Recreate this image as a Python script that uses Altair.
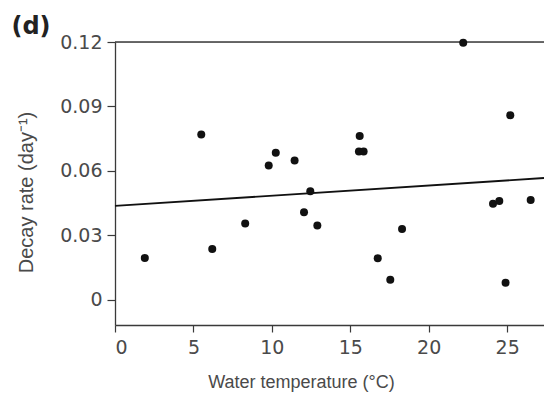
import altair as alt
import pandas as pd

# Decay rate versus water temperature
water_temp = [1.9, 5.5, 6.2, 8.3, 9.8, 10.25, 11.45, 12.05, 12.45, 12.9,
              15.6, 15.55, 15.85, 16.75, 17.55, 18.3, 22.2, 24.1, 24.5,
              25.2, 24.9, 26.5]
decay_rate = [0.0195, 0.077, 0.0237, 0.0355, 0.0625, 0.0685, 0.0648, 0.0408,
              0.0506, 0.0346, 0.0763, 0.069, 0.069, 0.0194, 0.0093, 0.033,
              0.1197, 0.0447, 0.046, 0.0859, 0.008, 0.0465]

# Fitted regression line (endpoints over the plotted range)
fit_x = [0.0, 27.35]
fit_y = [0.0437, 0.0567]

y_ticks = [0, 0.03, 0.06, 0.09, 0.12]
x_ticks = [0, 5, 10, 15, 20, 25]

X_DOMAIN = [0, 27.35]
Y_DOMAIN = [-0.0117, 0.12]

pts = pd.DataFrame({"t": water_temp, "k": decay_rate})
fit = pd.DataFrame({"t": fit_x, "k": fit_y})
top = pd.DataFrame({"k": [0.12]})

FONT = "Liberation Sans"
NUM_FONT = "DejaVu Sans"
AX = "#3a3a3a"
TXT = "#4a4a4a"

x_scale = alt.Scale(domain=X_DOMAIN, nice=False, zero=False)
y_scale = alt.Scale(domain=Y_DOMAIN, nice=False, zero=False)

x_axis = alt.Axis(
    values=x_ticks, title="Water temperature (°C)", grid=False,
    domainColor=AX, domainWidth=1.3, tickColor=AX, tickWidth=1.2, tickSize=7,
    labelPadding=6, labelFontSize=19, labelColor=TXT, labelFont=NUM_FONT,
    titleFont=FONT, titleFontSize=18, titleFontWeight="normal", titleColor=TXT,
    titleX=186, titleY=57, titleBaseline="middle", titleAnchor="middle",
)
y_axis = alt.Axis(
    values=y_ticks, title="Decay rate (day⁻¹)", grid=False,
    labelExpr="datum.value == 0 ? '0' : format(datum.value, '.2f')",
    domainColor=AX, domainWidth=1.3, tickColor=AX, tickWidth=1.2, tickSize=8,
    labelPadding=5, labelFontSize=19, labelColor=TXT, labelFont=NUM_FONT,
    titleFont=FONT, titleFontSize=20, titleFontWeight="normal", titleColor=TXT,
    titleAngle=-90, titleX=-89, titleY=150, titleBaseline="middle",
    titleAlign="center",
)

points = alt.Chart(pts).mark_circle(size=64, color="#111111", opacity=1).encode(
    x=alt.X("t:Q", scale=x_scale, axis=x_axis),
    y=alt.Y("k:Q", scale=y_scale, axis=y_axis),
)

line = alt.Chart(fit).mark_line(color="#111111", strokeWidth=1.8).encode(
    x=alt.X("t:Q", scale=x_scale),
    y=alt.Y("k:Q", scale=y_scale),
)

top_border = alt.Chart(top).mark_rule(color=AX, strokeWidth=1.3).encode(
    y=alt.Y("k:Q", scale=y_scale),
)

label = alt.Chart(pd.DataFrame({"s": ["(d)"]})).mark_text(
    text="(d)", font=NUM_FONT, fontSize=24, fontWeight="bold", color="#222222",
    align="center", baseline="middle",
).encode(x=alt.value(-84), y=alt.value(-15))

chart = (top_border + line + points + label).properties(
    width=429, height=283,
    padding={"left": 115, "top": 42, "right": 0, "bottom": 71},
    autosize=alt.AutoSizeParams(type="none"),
).configure_view(stroke=None).configure(background="white")

chart.save("out.html", embed_options={"renderer": "svg", "actions": False})
